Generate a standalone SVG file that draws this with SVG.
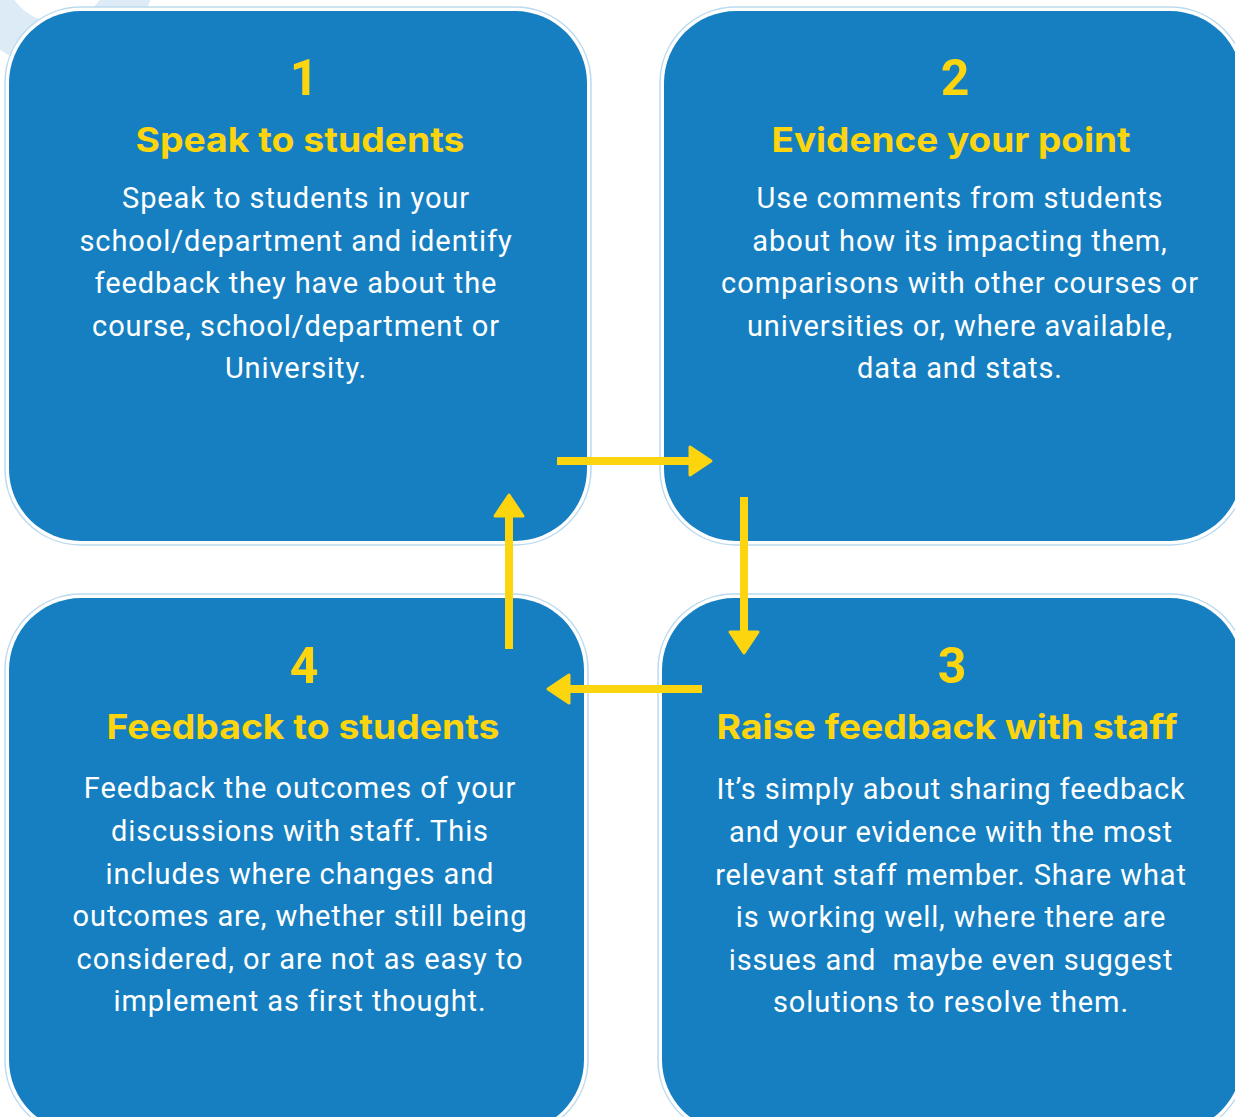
<svg xmlns="http://www.w3.org/2000/svg" width="1235" height="1117" viewBox="0 0 1235 1117">
<style>
.outline{fill:#ffffff;stroke:#bcdaee;stroke-width:1.5}
.box{fill:#167fc1}
.num{font-family:Roboto,"Liberation Sans",sans-serif;font-weight:700;font-size:50px;fill:#fdd50f;text-anchor:middle}
.head{font-family:Inter,Roboto,"Liberation Sans",sans-serif;font-weight:700;font-size:34px;fill:#fdd50f;text-anchor:middle}
.body{font-family:Roboto,"Liberation Sans",sans-serif;font-size:29px;letter-spacing:0.9px;fill:#ffffff;text-anchor:middle;white-space:pre}
.arrow{fill:none;stroke:#fdd50f;stroke-width:8}
</style>
<defs>
<marker id="ah" markerUnits="userSpaceOnUse" markerWidth="40" markerHeight="40" refX="2" refY="0" viewBox="-4 -20 32 40" orient="auto" overflow="visible">
<path d="M0,-14 L21,0 L0,14 Z" fill="#fdd50f" stroke="#fdd50f" stroke-width="3" stroke-linejoin="round"/>
</marker>
</defs>
<rect width="1235" height="1117" fill="#ffffff"/>
<circle cx="57" cy="-30" r="75" fill="none" stroke="#dcebf6" stroke-width="46"/>

<g id="node1">
<rect class="outline" x="5" y="7" width="586" height="538" rx="76"/>
<rect class="box" x="9" y="11" width="578" height="530" rx="72"/>
<text class="num" x="304" y="95">1</text>
<text class="head" x="300" y="152" textLength="329" lengthAdjust="spacingAndGlyphs">Speak to students</text>
<text class="body"><tspan x="296" y="208">Speak to students in your</tspan><tspan x="296" y="250.5">school/department and identify</tspan><tspan x="296" y="293">feedback they have about the</tspan><tspan x="296" y="335.5">course, school/department or</tspan><tspan x="296" y="378">University.</tspan></text>
</g>

<g id="node2">
<rect class="outline" x="660" y="7" width="586" height="538" rx="76"/>
<rect class="box" x="664" y="11" width="578" height="530" rx="72"/>
<text class="num" x="955" y="95">2</text>
<text class="head" x="951" y="152" textLength="359" lengthAdjust="spacingAndGlyphs">Evidence your point</text>
<text class="body"><tspan x="960" y="208">Use comments from students</tspan><tspan x="960" y="250.5">about how its impacting them,</tspan><tspan x="960" y="293">comparisons with other courses or</tspan><tspan x="960" y="335.5">universities or, where available,</tspan><tspan x="960" y="378">data and stats.</tspan></text>
</g>

<g id="node3">
<rect class="outline" x="658" y="594" width="588" height="542" rx="76"/>
<rect class="box" x="662" y="598" width="580" height="534" rx="72"/>
<text class="num" x="952" y="683">3</text>
<text class="head" x="947" y="739" textLength="461" lengthAdjust="spacingAndGlyphs">Raise feedback with staff</text>
<text class="body" xml:space="preserve"><tspan x="951" y="799">It’s simply about sharing feedback</tspan><tspan x="951" y="842">and your evidence with the most</tspan><tspan x="951" y="884.5">relevant staff member. Share what</tspan><tspan x="951" y="927">is working well, where there are</tspan><tspan x="951" y="969.5">issues and  maybe even suggest</tspan><tspan x="951" y="1012">solutions to resolve them.</tspan></text>
</g>

<g id="node4">
<rect class="outline" x="5" y="594" width="583" height="542" rx="76"/>
<rect class="box" x="9" y="598" width="575" height="534" rx="72"/>
<text class="num" x="304" y="683">4</text>
<text class="head" x="303" y="739" textLength="393" lengthAdjust="spacingAndGlyphs">Feedback to students</text>
<text class="body"><tspan x="300" y="798">Feedback the outcomes of your</tspan><tspan x="300" y="841">discussions with staff. This</tspan><tspan x="300" y="883.5">includes where changes and</tspan><tspan x="300" y="926">outcomes are, whether still being</tspan><tspan x="300" y="968.5">considered, or are not as easy to</tspan><tspan x="300" y="1011">implement as first thought.</tspan></text>
</g>

<g id="connectors">
<path class="arrow" d="M557,461 L692,461" marker-end="url(#ah)"/>
<path class="arrow" d="M744,497 L744,634" marker-end="url(#ah)"/>
<path class="arrow" d="M702,689 L567,689" marker-end="url(#ah)"/>
<path class="arrow" d="M509,649 L509,514" marker-end="url(#ah)"/>
</g>
</svg>
